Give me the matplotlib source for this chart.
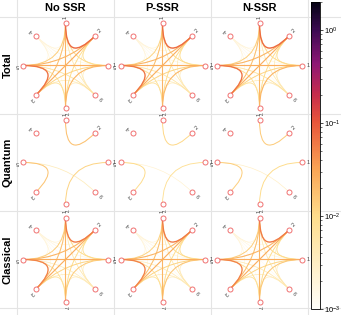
import numpy as np
import matplotlib
matplotlib.use("Agg")
import matplotlib.pyplot as plt
from matplotlib.colors import LinearSegmentedColormap, LogNorm
from matplotlib.path import Path
from matplotlib.patches import PathPatch
from matplotlib.lines import Line2D
from matplotlib.cm import ScalarMappable
from itertools import combinations

plt.rcParams['font.family'] = ['Liberation Sans', 'DejaVu Sans']

col_titles = ["No SSR", "P-SSR", "N-SSR"]
row_titles = ["Total", "Quantum", "Classical"]
node_labels = ["1", "2", "1", "6", "7", "3", "5", "4"]
node_angles = [90, 45, 0, -45, -90, -135, 180, 135]

# edge weights, pair order = combinations(range(8), 2)
total_no = [0.075, 0.010, 0.005, 0.022, 0.018, 0.013, 0.002,
            0.008, 0.004, 0.010, 0.026, 0.022, 0.002,
            0.0035, 0.022, 0.012, 0.026, 0.002,
            0.0035, 0.004, 0.007, 0.0015,
            0.007, 0.008, 0.0015,
            0.065, 0.002,
            0.002]
total_p = [0.072, 0.010, 0.005, 0.022, 0.018, 0.012, 0.002,
           0.008, 0.004, 0.010, 0.025, 0.022, 0.002,
           0.0035, 0.021, 0.012, 0.026, 0.002,
           0.0035, 0.004, 0.006, 0.0015,
           0.007, 0.008, 0.0015,
           0.062, 0.002,
           0.002]
total_n = [0.074, 0.010, 0.005, 0.022, 0.018, 0.013, 0.002,
           0.008, 0.004, 0.010, 0.026, 0.022, 0.002,
           0.0035, 0.022, 0.012, 0.026, 0.002,
           0.0035, 0.004, 0.007, 0.0015,
           0.007, 0.008, 0.0015,
           0.064, 0.002,
           0.002]
quantum_no = [0.017, 0, 0, 0, 0, 0, 0,
              0, 0, 0, 0, 0, 0,
              0, 0.012, 0, 0, 0,
              0, 0, 0.004, 0,
              0, 0, 0,
              0.016, 0,
              0]
quantum_p = [0.011, 0, 0, 0, 0, 0, 0,
             0, 0, 0, 0, 0, 0,
             0, 0.008, 0, 0, 0,
             0, 0, 0.0025, 0,
             0, 0, 0,
             0.010, 0,
             0]
quantum_n = [0.014, 0, 0, 0, 0, 0, 0,
             0, 0, 0, 0, 0, 0,
             0, 0.010, 0, 0, 0,
             0, 0, 0.003, 0,
             0, 0, 0,
             0.013, 0,
             0]
classical_no = [0.06, 0.010, 0.005, 0.022, 0.018, 0.013, 0.002,
                0.008, 0.004, 0.010, 0.026, 0.022, 0.002,
                0.0035, 0.014, 0.012, 0.026, 0.002,
                0.0035, 0.004, 0.004, 0.0015,
                0.007, 0.008, 0.0015,
                0.052, 0.002,
                0.002]
classical_p = [0.06, 0.010, 0.005, 0.022, 0.018, 0.012, 0.002,
               0.008, 0.004, 0.010, 0.025, 0.022, 0.002,
               0.0035, 0.016, 0.012, 0.026, 0.002,
               0.0035, 0.004, 0.004, 0.0015,
               0.007, 0.008, 0.0015,
               0.052, 0.002,
               0.002]
classical_n = [0.06, 0.010, 0.005, 0.022, 0.018, 0.013, 0.002,
               0.008, 0.004, 0.010, 0.026, 0.022, 0.002,
               0.0035, 0.015, 0.012, 0.026, 0.002,
               0.0035, 0.004, 0.0045, 0.0015,
               0.007, 0.008, 0.0015,
               0.053, 0.002,
               0.002]

panels = [[total_no, total_p, total_n],
          [quantum_no, quantum_p, quantum_n],
          [classical_no, classical_p, classical_n]]

vmin, vmax = 1e-3, 2.0
cmap = LinearSegmentedColormap.from_list("edge", [
    (0.00, "#fffffa"), (0.30, "#fedd8c"), (0.45, "#faa656"),
    (0.61, "#e8553a"), (0.70, "#c62c4c"), (0.80, "#8e1775"),
    (0.91, "#3c0a52"), (1.00, "#050414")])
norm = LogNorm(vmin, vmax)

W, H = 341, 315
fig = plt.figure(figsize=(W / 100, H / 100), dpi=100)

# background grid of the panel table
for k in range(4):
    x = (17 + 97 * k) / W
    y = 1 - (17 + 97 * k) / H
    fig.add_artist(Line2D([x, x], [0, 1], color="#e4e4e4", lw=0.8, zorder=0))
    fig.add_artist(Line2D([0, 1], [y, y], color="#e4e4e4", lw=0.8, zorder=0))

pairs = list(combinations(range(8), 2))
theta = np.deg2rad(node_angles)
nx, ny = np.cos(theta), np.sin(theta)
lim = 48.5 / 42

for r in range(3):
    for c in range(3):
        ax = fig.add_axes([(17 + 97 * c) / W, 1 - (114 + 97 * r) / H, 97 / W, 97 / H])
        ax.set_xlim(-lim, lim)
        ax.set_ylim(-lim, lim)
        ax.axis("off")
        w = np.array(panels[r][c], dtype=float)
        for idx in np.argsort(w):
            if w[idx] < vmin:
                continue
            i, j = pairs[idx]
            path = Path([(nx[i], ny[i]), (0, 0), (nx[j], ny[j])],
                        [Path.MOVETO, Path.CURVE3, Path.CURVE3])
            lw = 0.3 + 0.38 * (np.log10(w[idx]) + 3)
            ax.add_patch(PathPatch(path, facecolor="none", edgecolor=cmap(norm(w[idx])),
                                   lw=lw, capstyle="round"))
        ax.plot(nx, ny, "o", ms=3.6, mfc="white", mec="#f07272", mew=0.7, zorder=5)
        for k in range(8):
            ax.text(1.15 * nx[k], 1.15 * ny[k], node_labels[k], fontsize=4,
                    color="#444444", rotation=node_angles[k], ha="center", va="center",
                    rotation_mode="anchor", clip_on=False)

for c, t in enumerate(col_titles):
    fig.text((17 + 97 * c + 48.5) / W, 1 - 8 / H, t, ha="center", va="center",
             fontsize=8, fontweight="bold")
for r, t in enumerate(row_titles):
    fig.text(8 / W, 1 - (17 + 97 * r + 48.5) / H, t, ha="center", va="center",
             rotation=90, fontsize=8, fontweight="bold")

cax = fig.add_axes([311 / W, 6 / H, 9 / W, 307 / H])
cb = fig.colorbar(ScalarMappable(norm=norm, cmap=cmap), cax=cax)
cb.outline.set_linewidth(0.6)
cax.tick_params(labelsize=5.5, width=0.5, length=2, pad=1)
cax.tick_params(which="minor", width=0.4, length=1.2)

fig.savefig("out.png", dpi=100)
